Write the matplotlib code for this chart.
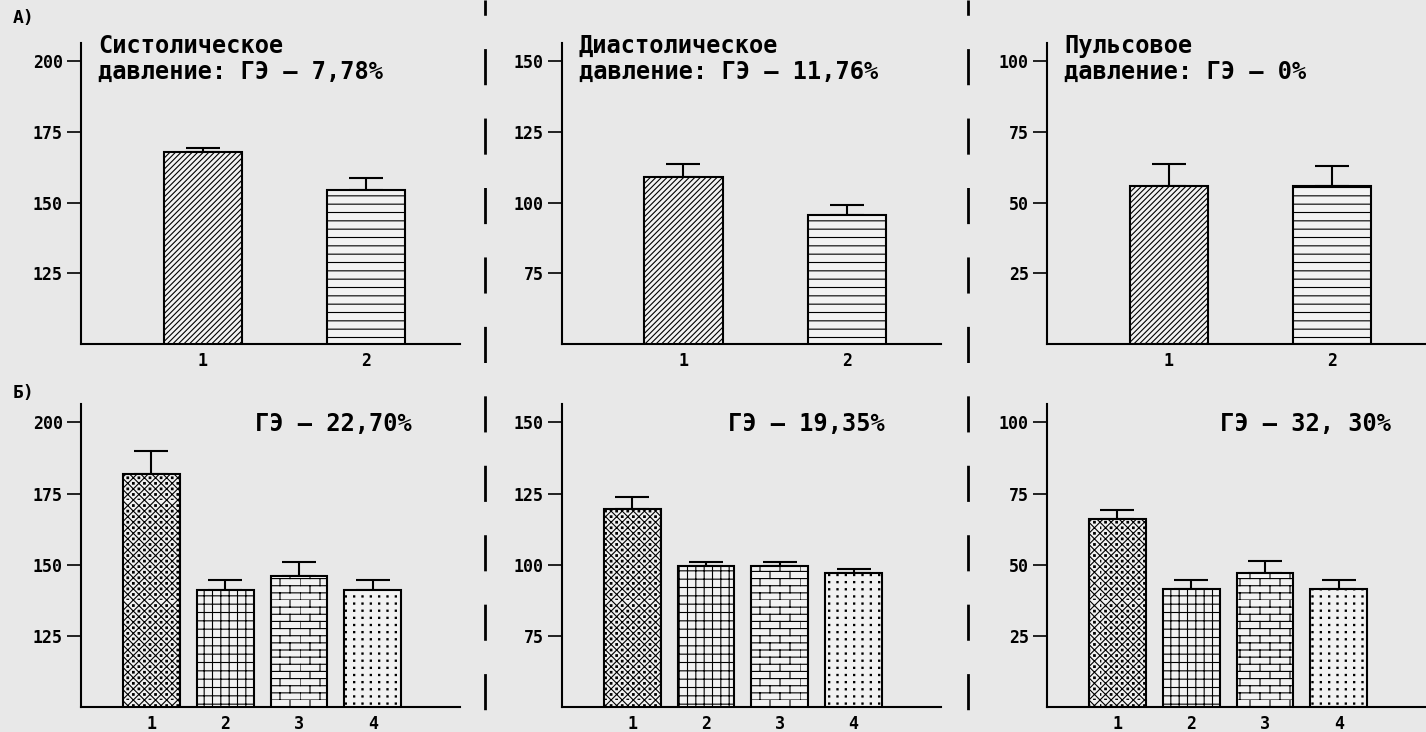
import numpy as np
import matplotlib
matplotlib.use("Agg")
import matplotlib.pyplot as plt
from matplotlib import hatch as mhatch
from matplotlib.path import Path
from matplotlib.lines import Line2D
import warnings

warnings.filterwarnings("ignore")

# --- data -----------------------------------------------------------------
# А) two groups
groups_a = ["1", "2"]
sys_a = [168, 154.5]
sys_a_err = [1.2, 4.4]
dia_a = [109, 95.5]
dia_a_err = [4.6, 3.8]
pul_a = [56, 56]
pul_a_err = [7.6, 7.0]

# Б) four groups
groups_b = ["1", "2", "3", "4"]
sys_b = [182, 141, 146, 141]
sys_b_err = [8.0, 3.6, 5.0, 3.6]
dia_b = [119.5, 99.5, 99.5, 97]
dia_b_err = [4.4, 1.6, 1.6, 1.6]
pul_b = [66.2, 41.4, 47, 41.4]
pul_b_err = [3.2, 3.2, 4.3, 3.2]

titles_a = ["Систолическое\nдавление: ГЭ – 7,78%",
            "Диастолическое\nдавление: ГЭ – 11,76%",
            "Пульсовое\nдавление: ГЭ – 0%"]
titles_b = ["ГЭ – 22,70%", "ГЭ – 19,35%", "ГЭ – 32, 30%"]
ymins = [100, 50, 0]
yticks = [[125, 150, 175, 200], [75, 100, 125, 150], [25, 50, 75, 100]]


def _segments(vertices, codes, segs):
    vertices[:] = np.array(segs, dtype=float).reshape(-1, 2)
    codes[0::2] = Path.MOVETO
    codes[1::2] = Path.LINETO


def _squares(vertices, codes, centers, r):
    v = []
    c = []
    for x, y in centers:
        v += [(x - r, y - r), (x + r, y - r), (x + r, y + r), (x - r, y + r), (x - r, y - r)]
        c += [Path.MOVETO, Path.LINETO, Path.LINETO, Path.LINETO, Path.CLOSEPOLY]
    vertices[:] = np.array(v, dtype=float)
    codes[:] = c


# brick pattern ('b')
class BrickHatch(mhatch.HatchPatternBase):
    def __init__(self, hatch, density):
        n = hatch.count("b")
        self.rows = 14 * n
        self.cols = 5 * n
        self.num_vertices = 2 * (self.rows + self.rows * self.cols)

    def set_vertices_and_codes(self, vertices, codes):
        h = 1.0 / self.rows
        w = 1.0 / self.cols
        segs = []
        for i in range(self.rows):
            y0 = i * h
            segs.append(((0, y0), (1, y0)))
            shift = 0.5 * w if i % 2 else 0.0
            for j in range(self.cols):
                x = j * w + shift
                segs.append(((x, y0), (x, y0 + h)))
        _segments(vertices, codes, segs)


# dots sitting in the middle of each 'xxx' diamond ('d')
class DiamondDots(mhatch.HatchPatternBase):
    def __init__(self, hatch, density):
        self.on = "d" in hatch
        self.centers = [(p / 18, q / 18) for p in range(18) for q in range(18)
                        if (p + q) % 2 == 1] if self.on else []
        self.num_vertices = 5 * len(self.centers)

    def set_vertices_and_codes(self, vertices, codes):
        _squares(vertices, codes, self.centers, 0.008)


# plain grid of dots ('p')
class GridDots(mhatch.HatchPatternBase):
    def __init__(self, hatch, density):
        self.on = "p" in hatch
        self.centers = [((j + 0.5) / 12, (i + 0.5) / 14) for j in range(12)
                        for i in range(14)] if self.on else []
        self.num_vertices = 5 * len(self.centers)

    def set_vertices_and_codes(self, vertices, codes):
        _squares(vertices, codes, self.centers, 0.006)


mhatch._hatch_types.extend([BrickHatch, DiamondDots, GridDots])

plt.rcParams["font.family"] = ["DejaVu Sans Mono"]
plt.rcParams["font.weight"] = "bold"
plt.rcParams["hatch.linewidth"] = 0.8
plt.rcParams["lines.scale_dashes"] = False

BG = "#e8e8e8"
FILL = "#f2f2f2"
W, H = 1426, 732

fig = plt.figure(figsize=(W / 100, H / 100), dpi=100, facecolor=BG)

lefts = [81, 561.7, 1047]
hatches_a = ["//////", "--"]
hatches_b = ["xxxd", "++", "b", "p"]


def style_axes(ax, ymin, ticks):
    ax.set_facecolor(BG)
    ax.spines["top"].set_visible(False)
    ax.spines["right"].set_visible(False)
    ax.spines["left"].set_linewidth(1.5)
    ax.spines["bottom"].set_linewidth(1.5)
    ax.set_yticks(ticks)
    ax.tick_params(axis="y", length=10, width=1.2, pad=3, labelsize=12)
    ax.tick_params(axis="x", length=0, pad=6, labelsize=12)


def draw_panel(ax, labels, vals, errs, hatches, width, ymin):
    x = np.arange(1, len(vals) + 1)
    ax.errorbar(x, vals, yerr=[np.zeros(len(errs)), errs], fmt="none",
                ecolor="black", elinewidth=1.5, capsize=12, capthick=1.5, zorder=1)
    ax.bar(x, vals, width=width, color=FILL, edgecolor="black",
           linewidth=1.5, hatch=hatches, zorder=2)
    ax.set_xticks(x)
    ax.set_xticklabels(labels)
    ax.set_ylim(ymin, ymin + 106.5)


series_a = [(sys_a, sys_a_err), (dia_a, dia_a_err), (pul_a, pul_a_err)]
series_b = [(sys_b, sys_b_err), (dia_b, dia_b_err), (pul_b, pul_b_err)]
title_b_x = [0.667, 0.646, 0.681]

for k in range(3):
    # top row
    ax = fig.add_axes([lefts[k] / W, (H - 344) / H, 379 / W, 301 / H])
    style_axes(ax, ymins[k], yticks[k])
    vals, errs = series_a[k]
    draw_panel(ax, groups_a, vals, errs, hatches_a, 0.48, ymins[k])
    ax.set_xlim(0.255, 0.255 + 379 / 163.4)
    ax.text(0.045, 1.03, titles_a[k], transform=ax.transAxes, ha="left",
            va="top", fontsize=17, linespacing=1.1)

    # bottom row
    ax = fig.add_axes([lefts[k] / W, (H - 707) / H, 379 / W, 303 / H])
    style_axes(ax, ymins[k], yticks[k])
    vals, errs = series_b[k]
    draw_panel(ax, groups_b, vals, errs, hatches_b, 0.77, ymins[k])
    ax.set_xlim(0.045, 0.045 + 379 / 73.8)
    ax.text(title_b_x[k], 0.934, titles_b[k], transform=ax.transAxes,
            ha="center", va="center", fontsize=17)

fig.text(13 / W, 1 - 18 / H, "А)", ha="left", va="center", fontsize=13)
fig.text(13 / W, 1 - 393 / H, "Б)", ha="left", va="center", fontsize=13)

# dashed separators between the columns
for xpix in (485, 968):
    fig.add_artist(Line2D([xpix / W, xpix / W], [1, 0], transform=fig.transFigure,
                          color="black", linewidth=2, linestyle=(15, (26, 24))))

fig.savefig("out.png", dpi=100, facecolor=BG)
